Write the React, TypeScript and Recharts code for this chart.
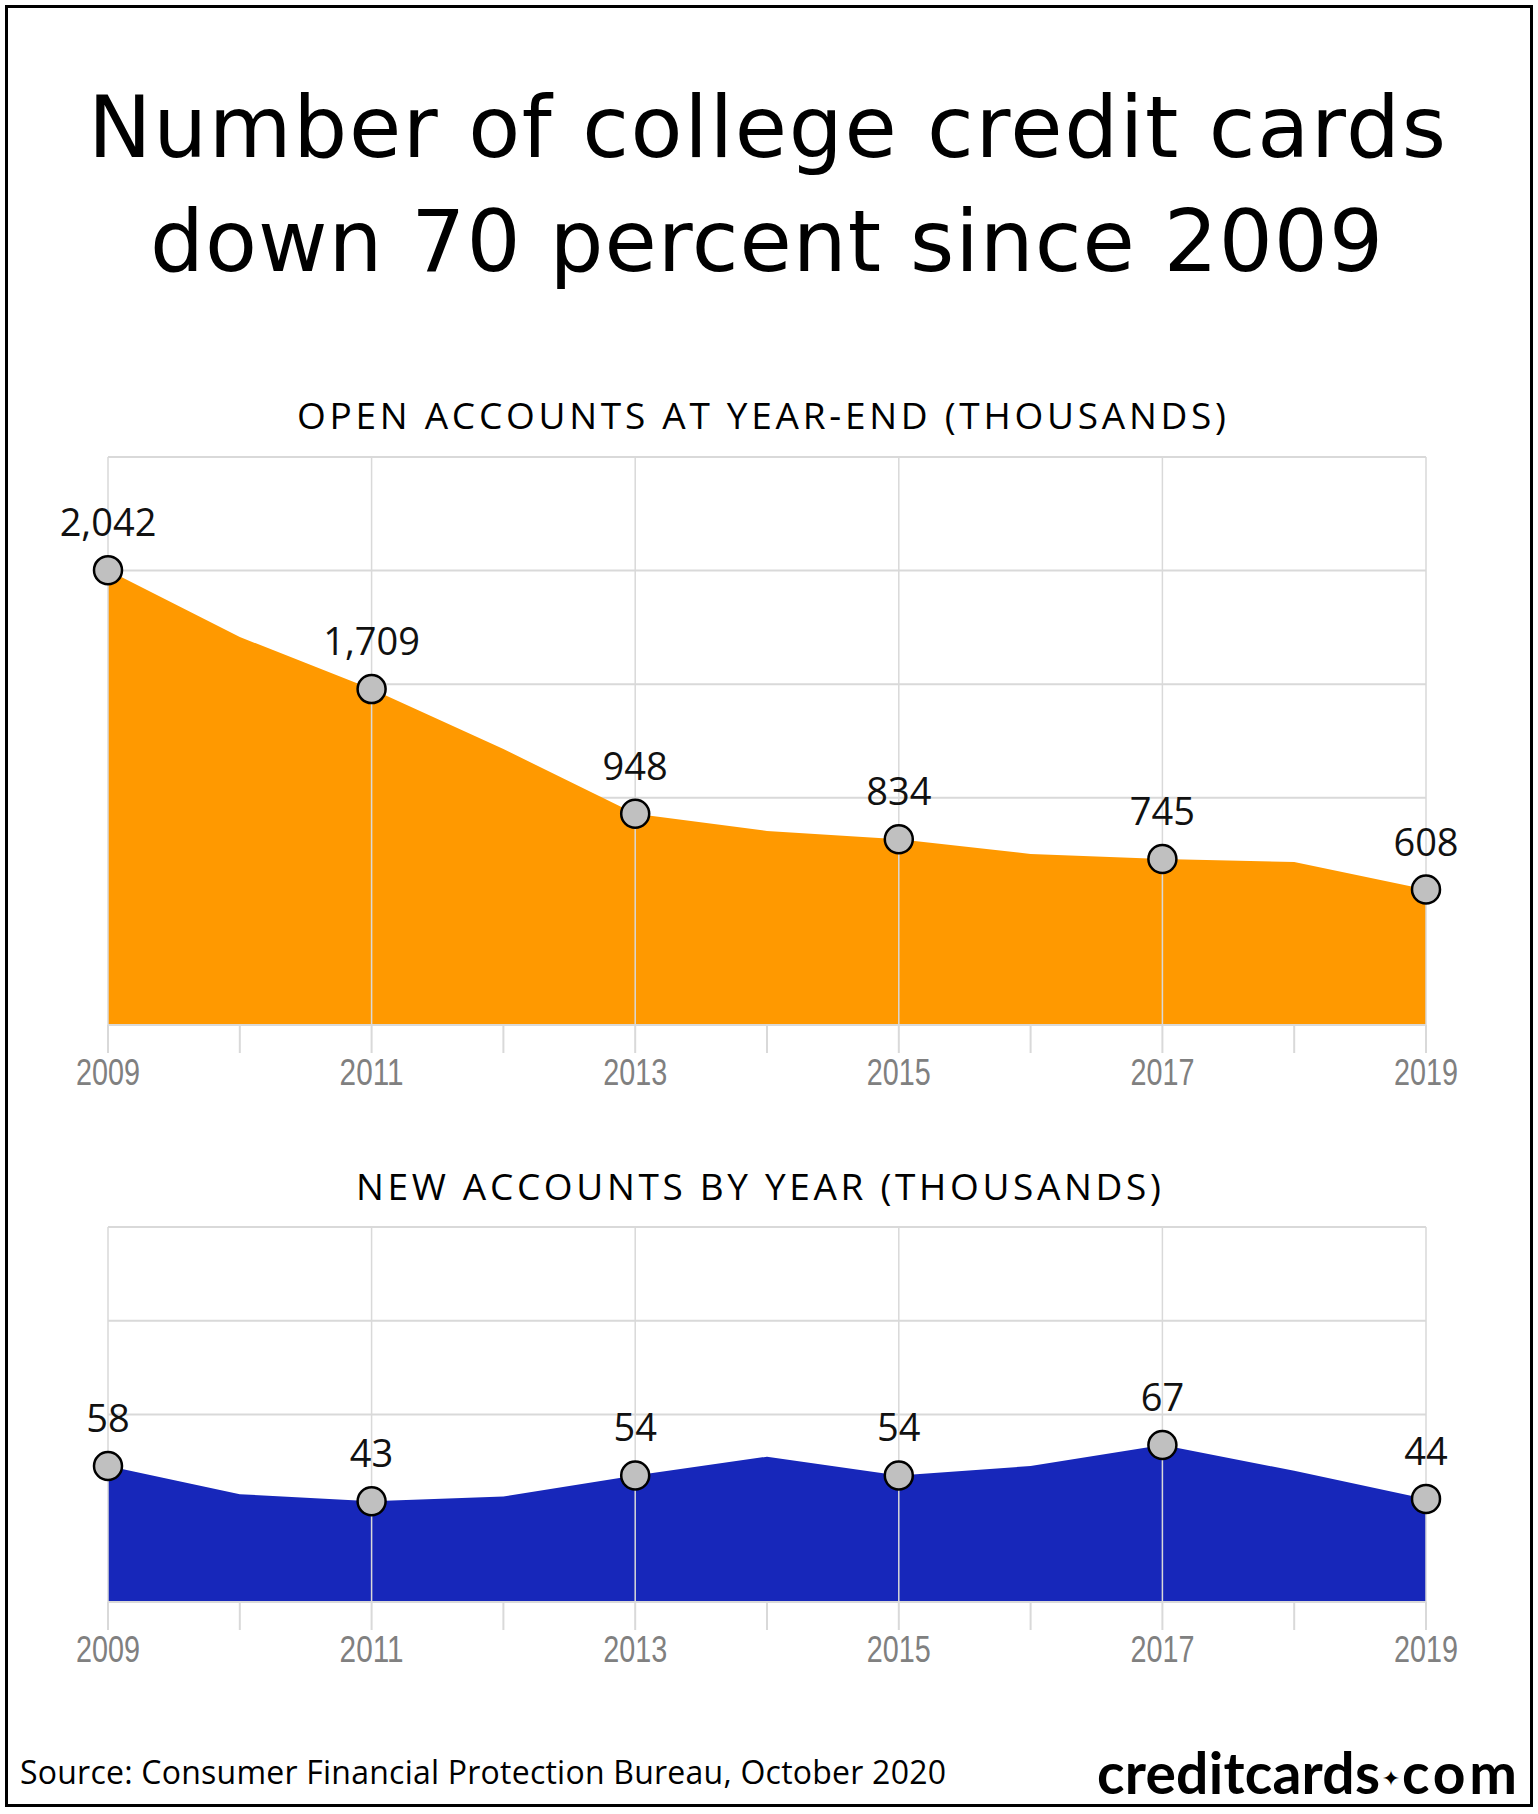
import React from "react";
import {
  AreaChart,
  Area,
  Line,
  XAxis,
  YAxis,
  CartesianGrid,
  ReferenceLine,
} from "recharts";

const YEARS = [2009, 2010, 2011, 2012, 2013, 2014, 2015, 2016, 2017, 2018, 2019];
const LABEL_YEARS = [2009, 2011, 2013, 2015, 2017, 2019];

const OPEN_VALUES = [2042, 1742, 1508, 1239, 948, 871, 834, 768, 745, 732, 608];
const OPEN_LABELS = ["2,042", "1,709", "948", "834", "745", "608"];
const OPEN_TICKS = [0, 510, 1020, 1530, 2040, 2550];

// new accounts by year, thousands
const NEW_VALUES = [58, 46, 43, 45, 54, 62, 54, 58, 67, 56, 44];
const NEW_LABELS = ["58", "43", "54", "54", "67", "44"];
const NEW_TICKS = [0, 40, 80, 120, 160];

const ORANGE = "#ff9900";
const BLUE = "#1727ba";
const GRID = "#d9d9d9";

function buildRows(values: number[], labels: string[]) {
  return YEARS.map((year, i) => {
    const li = LABEL_YEARS.indexOf(year);
    return {
      year,
      value: values[i],
      marker: li >= 0 ? values[i] : null,
      label: li >= 0 ? labels[li] : null,
    };
  });
}

const openRows = buildRows(OPEN_VALUES, OPEN_LABELS);
const newRows = buildRows(NEW_VALUES, NEW_LABELS);

const renderMarker = (props: any) => {
  const { cx, cy, index, payload } = props;
  if (cx == null || cy == null || payload?.label == null) {
    return <g key={`m-${index}`} />;
  }
  return (
    <g key={`m-${index}`}>
      <circle cx={cx} cy={cy} r={14} fill="#c0c0c0" stroke="#000" strokeWidth={2.5} />
      <text
        x={cx}
        y={cy - 34}
        textAnchor="middle"
        fontFamily="'Open Sans', sans-serif"
        fontSize={38}
        fill="#111"
      >
        {payload.label}
      </text>
    </g>
  );
};

// narrow grey year labels, odd years only
const YearTick = (props: any) => {
  const { x, y, payload } = props;
  if (!LABEL_YEARS.includes(payload.value)) return <g />;
  return (
    <text
      x={x - 32}
      y={y + 25}
      fontFamily="'Liberation Sans', Arial, sans-serif"
      fontSize={36}
      fill="#808080"
      textLength={64}
      lengthAdjust="spacingAndGlyphs"
    >
      {payload.value}
    </text>
  );
};

interface PanelProps {
  rows: ReturnType<typeof buildRows>;
  ticks: number[];
  color: string;
  width: number;
  height: number;
  margin: { top: number; right: number; left: number; bottom: number };
}

function Panel({ rows, ticks, color, width, height, margin }: PanelProps) {
  return (
    <AreaChart width={width} height={height} data={rows} margin={margin}>
      <CartesianGrid vertical={false} stroke={GRID} strokeWidth={2} />
      <XAxis
        dataKey="year"
        type="number"
        domain={[2009, 2019]}
        ticks={YEARS}
        interval={0}
        height={60}
        tick={<YearTick />}
        tickLine={{ stroke: GRID, strokeWidth: 2 }}
        tickSize={28}
        tickMargin={7}
        axisLine={{ stroke: GRID, strokeWidth: 2 }}
      />
      <YAxis hide type="number" domain={[ticks[0], ticks[ticks.length - 1]]} ticks={ticks} />
      <Area
        type="linear"
        dataKey="value"
        stroke="none"
        fill={color}
        fillOpacity={1}
        isAnimationActive={false}
      />
      {LABEL_YEARS.map((yr) => (
        <ReferenceLine key={yr} x={yr} stroke={GRID} strokeWidth={1.5} />
      ))}
      <Line
        type="linear"
        dataKey="marker"
        stroke="none"
        dot={renderMarker}
        activeDot={false}
        isAnimationActive={false}
      />
    </AreaChart>
  );
}

export default function App() {
  return (
    <div
      style={{
        position: "absolute",
        left: 0,
        top: 0,
        width: 1538,
        height: 1814,
        background: "#fff",
        overflow: "hidden",
      }}
    >
      <div style={{ position: "absolute", left: 0, top: 400 }}>
        <Panel
          rows={openRows}
          ticks={OPEN_TICKS}
          color={ORANGE}
          width={1538}
          height={700}
          margin={{ top: 57, right: 112, left: 108, bottom: 15 }}
        />
      </div>
      <div style={{ position: "absolute", left: 0, top: 1150 }}>
        <Panel
          rows={newRows}
          ticks={NEW_TICKS}
          color={BLUE}
          width={1538}
          height={550}
          margin={{ top: 77, right: 112, left: 108, bottom: 38 }}
        />
      </div>
      <svg
        width={1538}
        height={1814}
        style={{ position: "absolute", left: 0, top: 0, pointerEvents: "none" }}
      >
        <rect x={6.5} y={6.5} width={1525} height={1799} fill="none" stroke="#000" strokeWidth={3} />
        <g fontFamily="'DejaVu Sans', sans-serif" fontSize={85} fill="#000">
          <text x={88} y={157} textLength={1358} lengthAdjust="spacing">
            Number of college credit cards
          </text>
          <text x={150} y={271} textLength={1233} lengthAdjust="spacing">
            down 70 percent since 2009
          </text>
        </g>
        <g fontFamily="'Open Sans', sans-serif" fontSize={37} fill="#000">
          <text x={297} y={429} textLength={929} lengthAdjust="spacing">
            OPEN ACCOUNTS AT YEAR-END (THOUSANDS)
          </text>
          <text x={356} y={1200} textLength={805} lengthAdjust="spacing">
            NEW ACCOUNTS BY YEAR (THOUSANDS)
          </text>
        </g>
        <text
          x={20}
          y={1784}
          fontFamily="'Open Sans', sans-serif"
          fontSize={32}
          fill="#000"
          textLength={926}
          lengthAdjust="spacing"
        >
          Source: Consumer Financial Protection Bureau, October 2020
        </text>
        <g fontFamily="Lato, sans-serif" fontWeight={700} fontSize={57} fill="#000">
          <text x={1097} y={1794} textLength={283} lengthAdjust="spacing">
            creditcards
          </text>
          <text x={1391} y={1786} fontSize={22} textAnchor="middle" fontFamily="'DejaVu Sans', sans-serif">
            ✦
          </text>
          <text x={1402} y={1794} textLength={115} lengthAdjust="spacing">
            com
          </text>
        </g>
      </svg>
    </div>
  );
}
